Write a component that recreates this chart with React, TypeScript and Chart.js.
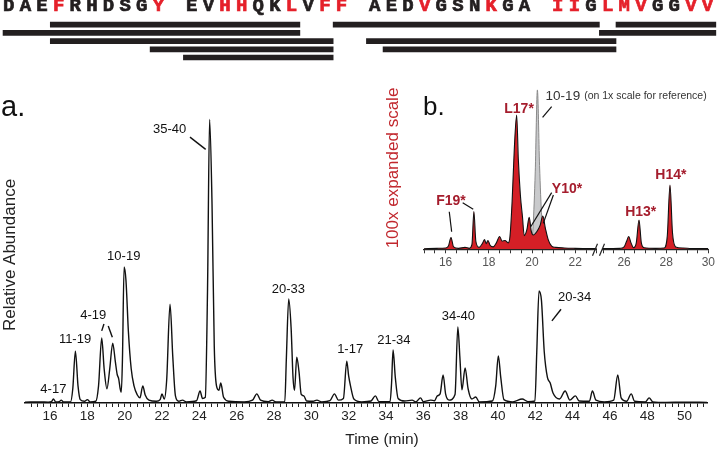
import React, { useEffect, useRef } from 'react';
import { Chart, registerables } from 'chart.js';

Chart.register(...registerables);
Chart.defaults.font.family = "'Liberation Sans', Arial, sans-serif";

// ---------- peptide map ----------
const SEQUENCE = 'DAEFRHDSGY EVHHQKLVFF AEDVGSNKGA IIGLMVGGVV';
const RED_RESIDUES = [4, 10, 13, 14, 17, 19, 20, 24, 28, 31, 32, 34, 35, 36, 39, 40];
const PEPTIDE_ROW_1: [number, number][] = [[4, 17], [20, 33], [35, 40]];
const PEPTIDE_ROW_2: [number, number][] = [[1, 17], [34, 40]];
const PEPTIDE_ROW_3: [number, number][] = [[4, 19], [21, 34]];
const PEPTIDE_ROW_4: [number, number][] = [[10, 19], [22, 34]];
const PEPTIDE_ROW_5: [number, number][] = [[11, 19]];
const PEPTIDE_ROWS = [PEPTIDE_ROW_1, PEPTIDE_ROW_2, PEPTIDE_ROW_3, PEPTIDE_ROW_4, PEPTIDE_ROW_5];

// ---------- main chromatogram (a) ----------
const MAIN_TIME = [14.66, 15.5, 15.9, 16.08, 16.18, 16.3, 16.5, 16.6, 16.72, 17.1, 17.22, 17.36, 17.5, 17.62, 17.85, 18.0, 18.15, 18.45, 18.6, 18.77, 18.9, 19.05, 19.2, 19.36, 19.5, 19.6, 19.68, 19.76, 19.82, 19.88, 19.97, 20.07, 20.2, 20.35, 20.5, 20.68, 20.82, 20.97, 21.1, 21.3, 21.7, 21.9, 22.0, 22.12, 22.25, 22.43, 22.58, 22.72, 22.9, 23.1, 23.3, 23.85, 24.04, 24.17, 24.32, 24.44, 24.55, 24.68, 24.8, 24.92, 25.05, 25.15, 25.3, 25.6, 26.4, 26.85, 27.08, 27.28, 27.7, 27.9, 28.1, 28.58, 28.66, 28.79, 28.92, 29.02, 29.1, 29.22, 29.34, 29.46, 29.6, 29.75, 30.1, 30.3, 30.55, 31.0, 31.24, 31.45, 31.72, 31.9, 32.0, 32.1, 32.28, 32.7, 33.2, 33.43, 33.62, 34.22, 34.3, 34.38, 34.5, 34.65, 35.0, 35.4, 35.6, 35.85, 36.0, 36.4, 36.6, 36.75, 36.9, 37.06, 37.2, 37.38, 37.7, 37.85, 37.96, 38.07, 38.24, 38.4, 38.6, 38.81, 39.0, 39.7, 39.88, 40.02, 40.15, 40.32, 40.8, 41.3, 41.6, 41.98, 42.08, 42.2, 42.33, 42.48, 42.65, 42.8, 42.95, 43.3, 43.6, 43.85, 44.15, 44.35, 44.9, 45.06, 45.25, 45.7, 46.2, 46.42, 46.6, 46.9, 47.14, 47.32, 47.9, 48.1, 48.3, 49.0, 50.0, 51.2];
const MAIN_SIGNAL = [0.3, 0.4, 0.3, 0.5, 1.4, 0.4, 0.5, 1.0, 0.4, 0.4, 5, 18.2, 6, 1.2, 0.6, 1.2, 0.4, 0.6, 6, 22.8, 12, 5, 12, 21, 14.5, 10, 8.5, 5, 3.8, 15, 47.7, 43, 25, 12, 6, 2.8, 1.8, 6, 2.8, 1, 0.6, 1.2, 3.2, 1.4, 8, 34.7, 16, 2.5, 0.6, 1, 0.4, 0.8, 4.2, 1.6, 2, 40, 99.5, 70, 20, 6, 4.5, 7, 2, 0.6, 0.4, 1, 3.2, 1, 0.5, 1, 0.4, 0.5, 15, 36.5, 26, 9, 4.5, 16.1, 11, 3, 2.5, 0.7, 0.6, 1, 0.4, 0.8, 3.2, 1, 1.6, 14.7, 9.5, 6, 1.4, 0.4, 0.7, 2.5, 0.5, 0.5, 7, 18.6, 9, 1.6, 0.7, 1, 0.4, 1.8, 0.5, 1, 0.8, 2.5, 3.2, 9.8, 3, 1, 3, 26.7, 16, 4.6, 12.3, 5, 1.4, 2.1, 0.4, 0.7, 6, 16.5, 9, 1.2, 0.4, 1.4, 0.5, 0.7, 18, 39.3, 36, 18, 9, 7, 3.5, 1.4, 4.2, 1, 2.5, 0.7, 0.6, 4.2, 1, 0.4, 1, 9.8, 1.8, 0.6, 3.2, 0.6, 0.4, 1.8, 0.4, 0.2, 0.3, 0.2];

const MAIN_PEAK_LABELS = [
  { text: '4-17', t: 16.18, v: 4.7 },
  { text: '11-19', t: 17.34, v: 22.2 },
  { text: '4-19', t: 18.32, v: 30.9 },
  { text: '10-19', t: 19.95, v: 51.5 },
  { text: '35-40', t: 22.41, v: 96.0 },
  { text: '20-33', t: 28.77, v: 39.9 },
  { text: '1-17', t: 32.08, v: 18.9 },
  { text: '21-34', t: 34.42, v: 22.1 },
  { text: '34-40', t: 37.88, v: 30.5 },
  { text: '20-34', t: 44.11, v: 37.2 },
];
const MAIN_LEADERS = [
  [23.5, 93.3, 24.34, 89.0],
  [43.38, 32.9, 42.89, 28.8],
  [18.89, 27.7, 18.77, 25.3],
  [19.12, 27.0, 19.34, 23.05],
];

// ---------- inset (b), 100x expanded ----------
const INSET_LEFT_TIME = [15.0, 15.6, 16.0, 16.13, 16.25, 16.37, 16.6, 16.9, 17.1, 17.22, 17.31, 17.4, 17.55, 17.7, 17.8, 17.88, 17.96, 18.06, 18.2, 18.35, 18.5, 18.62, 18.75, 18.9, 18.98, 19.08, 19.18, 19.29, 19.37, 19.46, 19.56, 19.64, 19.76, 19.87, 19.97, 20.06, 20.22, 20.38, 20.5, 20.62, 20.75, 20.91, 21.1, 21.5, 22.0, 22.5, 23.0];
const INSET_LEFT_SIGNAL = [0.3, 0.6, 0.8, 2, 7.3, 1.5, 0.6, 1.2, 0.6, 3, 23.4, 5, 1.2, 3.5, 6, 3.5, 5.5, 2.5, 1.5, 4, 7.9, 5, 5.5, 4, 8, 30, 62, 83.3, 55, 34, 20, 8.5, 12, 19.8, 11, 8.9, 10.9, 15, 20.6, 13, 6, 2, 1.2, 0.8, 0.6, 0.5, 0.4];
const REF_1X_TIME = [19.95, 20.05, 20.15, 20.25, 20.35, 20.45, 20.6];
const REF_1X_SIGNAL = [0.5, 14, 48, 98.8, 52, 20, 2];
const INSET_RIGHT_TIME = [25.0, 25.8, 26.0, 26.12, 26.22, 26.33, 26.45, 26.58, 26.71, 26.82, 26.95, 27.5, 27.9, 28.05, 28.18, 28.3, 28.45, 28.8, 29.2, 30.0];
const INSET_RIGHT_SIGNAL = [0.4, 0.6, 1.5, 5, 7.9, 4, 1, 4, 18.2, 4, 1, 0.6, 0.8, 8, 39.9, 10, 1.5, 0.8, 0.5, 0.4];

const INSET_LEFT_LABELS = [
  { text: 'F19*', t: 16.25, v: 29.9 },
  { text: 'L17*', t: 19.4, v: 87 },
  { text: 'Y10*', t: 21.62, v: 37.4 },
];
const INSET_LEFT_LEADERS = [
  [16.17, 23.3, 16.28, 10.9],
  [16.79, 28.9, 17.28, 24.8],
  [20.91, 88.4, 20.49, 81.8],
  [20.91, 35.1, 19.94, 14.0],
  [20.99, 33.7, 20.52, 16.1],
];
const REF_LABEL = { text: '10-19', note: '(on 1x scale for reference)', t: 20.63, v: 95 };
const INSET_RIGHT_LABELS = [
  { text: 'H13*', t: 26.79, v: 23.3 },
  { text: 'H14*', t: 28.22, v: 46.2 },
];

const W = 717;
const H = 449;
const SEQ_RED = '#e5202a';
const INSET_RED = '#d41f26';
const LABEL_RED = '#a51d2d';

function residueSlots(): number[] {
  const s: number[] = [];
  for (let i = 0; i < SEQUENCE.length; i++) if (SEQUENCE[i] !== ' ') s.push(i);
  return s;
}

function evenLabel(v: number) {
  const r = Math.round(v);
  return Math.abs(v - r) < 1e-6 && r % 2 === 0 ? String(r) : '';
}

function makeTicks(start: number, end: number, step: number) {
  const t: { value: number }[] = [];
  for (let k = 0; start + k * step <= end + 1e-9; k++) t.push({ value: start + k * step });
  return t;
}

function text(ctx: CanvasRenderingContext2D, s: string, x: number, y: number, font: string, color: string, align: CanvasTextAlign = 'center', baseline: CanvasTextBaseline = 'middle', rot = 0) {
  ctx.save();
  ctx.font = font;
  ctx.fillStyle = color;
  ctx.textAlign = align;
  ctx.textBaseline = baseline;
  ctx.translate(x, y);
  if (rot) ctx.rotate(rot);
  ctx.fillText(s, 0, 0);
  ctx.restore();
}

function lines(chart: any, segs: number[][], color: string, width: number) {
  const { ctx, scales } = chart;
  ctx.save();
  ctx.strokeStyle = color;
  ctx.lineWidth = width;
  segs.forEach(([t1, v1, t2, v2]) => {
    ctx.beginPath();
    ctx.moveTo(scales.x.getPixelForValue(t1), scales.y.getPixelForValue(v1));
    ctx.lineTo(scales.x.getPixelForValue(t2), scales.y.getPixelForValue(v2));
    ctx.stroke();
  });
  ctx.restore();
}

const FONT = "'Liberation Sans', Arial, sans-serif";

function insetAxis(min: number, max: number) {
  return {
    type: 'linear',
    min,
    max,
    afterBuildTicks: (s: any) => { s.ticks = makeTicks(min, max, 0.5); },
    afterFit: (s: any) => { s.height = 20; },
    grid: { drawOnChartArea: false, drawTicks: true, tickLength: 4, color: '#333', lineWidth: 1 },
    border: { display: true, color: '#222', width: 1.2 },
    ticks: { autoSkip: false, maxRotation: 0, padding: 2, color: '#555', font: { size: 12 }, callback: (v: number) => evenLabel(v) },
  };
}

export default function App() {
  const seqRef = useRef<HTMLCanvasElement>(null);
  const mainRef = useRef<HTMLCanvasElement>(null);
  const leftRef = useRef<HTMLCanvasElement>(null);
  const rightRef = useRef<HTMLCanvasElement>(null);

  useEffect(() => {
    const slots = residueSlots();
    const slotOf = (res: number) => slots[res - 1];
    const letterColor = (c: any) => (RED_RESIDUES.includes(slots.indexOf(c.tick.value) + 1) ? SEQ_RED : '#231f20');
    const barSets = [0, 1, 2].map((col) => ({
      data: PEPTIDE_ROWS.map((row) => (row[col] ? [slotOf(row[col][0]) - 0.5, slotOf(row[col][1]) + 0.5] : null)),
      backgroundColor: '#231f20',
      borderWidth: 0,
      barThickness: 5,
      grouped: false,
    }));

    const seqChart = new Chart(seqRef.current as HTMLCanvasElement, {
      type: 'bar',
      data: { labels: PEPTIDE_ROWS.map((_, i) => 'row' + (i + 1)), datasets: barSets as any },
      options: {
        indexAxis: 'y',
        responsive: false,
        animation: false,
        layout: { padding: { top: 0, left: 0, right: 0, bottom: H - 61.6 } },
        plugins: { legend: { display: false }, tooltip: { enabled: false } },
        scales: {
          y: { display: false },
          x: {
            type: 'linear',
            position: 'top',
            min: -0.36,
            max: 42.57,
            afterBuildTicks: (s: any) => { s.ticks = slots.map((v) => ({ value: v })); },
            afterFit: (s: any) => { s.height = 20.6; },
            grid: { display: false, drawTicks: false },
            border: { display: false },
            ticks: {
              autoSkip: false,
              maxRotation: 0,
              padding: 3,
              font: { family: "'Liberation Mono', 'Courier New', monospace", size: 19, weight: 'bold' },
              color: letterColor,
              textStrokeColor: letterColor,
              textStrokeWidth: 0.7,
              callback: (v: number) => SEQUENCE[v],
            },
          },
        },
      } as any,
    });

    const mainPlugin = {
      id: 'mainText',
      afterDraw(chart: any) {
        const { ctx, scales } = chart;
        MAIN_PEAK_LABELS.forEach((l) => text(ctx, l.text, scales.x.getPixelForValue(l.t), scales.y.getPixelForValue(l.v), `13px ${FONT}`, '#111'));
        lines(chart, MAIN_LEADERS, '#111', 1.4);
        text(ctx, 'a.', 1, 116, `29px ${FONT}`, '#111', 'left', 'alphabetic');
        text(ctx, 'Relative Abundance', 10, 255, `17px ${FONT}`, '#222', 'center', 'middle', -Math.PI / 2);
        text(ctx, 'Time (min)', 382, 440, `15.5px ${FONT}`, '#222');
      },
    };

    const mainChart = new Chart(mainRef.current as HTMLCanvasElement, {
      type: 'line',
      data: {
        datasets: [{
          data: MAIN_TIME.map((t, i) => ({ x: t, y: MAIN_SIGNAL[i] })),
          borderColor: '#111',
          borderWidth: 1.4,
          pointRadius: 0,
          cubicInterpolationMode: 'monotone',
          fill: false,
        }],
      },
      options: {
        responsive: false,
        animation: false,
        layout: { padding: { top: 118, left: 25, right: 10, bottom: 0 } },
        plugins: { legend: { display: false }, tooltip: { enabled: false } },
        scales: {
          x: {
            type: 'linear',
            min: 14.66,
            max: 51.2,
            afterBuildTicks: (s: any) => { s.ticks = makeTicks(15, 51, 1 / 3); },
            afterFit: (s: any) => { s.height = 46; },
            grid: { drawOnChartArea: false, drawTicks: true, tickLength: 4, color: '#222', lineWidth: 1 },
            border: { display: true, color: '#111', width: 1.5 },
            ticks: { autoSkip: false, maxRotation: 0, padding: 1, color: '#222', font: { size: 13.5 }, callback: (v: number) => evenLabel(v) },
          },
          y: { display: false, min: 0, max: 100 },
        },
      } as any,
      plugins: [mainPlugin],
    });

    const leftPlugin = {
      id: 'leftText',
      afterDraw(chart: any) {
        const { ctx, scales } = chart;
        INSET_LEFT_LABELS.forEach((l) => text(ctx, l.text, scales.x.getPixelForValue(l.t), scales.y.getPixelForValue(l.v), `bold 14px ${FONT}`, LABEL_RED));
        const rx = scales.x.getPixelForValue(REF_LABEL.t);
        const ry = scales.y.getPixelForValue(REF_LABEL.v);
        text(ctx, REF_LABEL.text, rx, ry, `13.5px ${FONT}`, '#333', 'left');
        ctx.save();
        ctx.font = `13.5px ${FONT}`;
        const w = ctx.measureText(REF_LABEL.text).width;
        ctx.restore();
        text(ctx, REF_LABEL.note, rx + w + 4, ry, `10.5px ${FONT}`, '#333', 'left');
        lines(chart, INSET_LEFT_LEADERS, '#111', 1.2);
        text(ctx, 'b.', 423, 115, `26px ${FONT}`, '#111', 'left', 'alphabetic');
        text(ctx, '100x expanded scale', 393, 168, `17px ${FONT}`, '#c1272d', 'center', 'middle', -Math.PI / 2);
      },
    };

    const leftChart = new Chart(leftRef.current as HTMLCanvasElement, {
      type: 'line',
      data: {
        datasets: [
          {
            data: INSET_LEFT_TIME.map((t, i) => ({ x: t, y: INSET_LEFT_SIGNAL[i] })),
            borderColor: '#111', borderWidth: 1.1, backgroundColor: INSET_RED,
            fill: 'origin', pointRadius: 0, cubicInterpolationMode: 'monotone', order: 1,
          },
          {
            data: REF_1X_TIME.map((t, i) => ({ x: t, y: REF_1X_SIGNAL[i] })),
            borderColor: '#8a8a8a', borderWidth: 1, backgroundColor: '#c9cacc',
            fill: 'origin', pointRadius: 0, cubicInterpolationMode: 'monotone', order: 2,
          },
        ],
      },
      options: {
        responsive: false,
        animation: false,
        layout: { padding: { top: 88, left: 424, right: W - 596.8, bottom: H - 249.3 - 20 } },
        plugins: { legend: { display: false }, tooltip: { enabled: false } },
        scales: { x: insetAxis(15, 23), y: { display: false, min: 0, max: 100 } },
      } as any,
      plugins: [leftPlugin],
    });

    const rightPlugin = {
      id: 'rightText',
      afterDraw(chart: any) {
        const { ctx, scales, chartArea } = chart;
        INSET_RIGHT_LABELS.forEach((l) => text(ctx, l.text, scales.x.getPixelForValue(l.t), scales.y.getPixelForValue(l.v), `bold 14px ${FONT}`, LABEL_RED));
        ctx.save();
        ctx.strokeStyle = '#222';
        ctx.lineWidth = 1.2;
        const b = chartArea.bottom;
        [[-10.5, -5.5], [-3.5, 1.5]].forEach(([a, c]) => {
          ctx.beginPath();
          ctx.moveTo(chartArea.left + a, b + 6.5);
          ctx.lineTo(chartArea.left + c, b - 5.5);
          ctx.stroke();
        });
        ctx.restore();
      },
    };

    const rightChart = new Chart(rightRef.current as HTMLCanvasElement, {
      type: 'line',
      data: {
        datasets: [{
          data: INSET_RIGHT_TIME.map((t, i) => ({ x: t, y: INSET_RIGHT_SIGNAL[i] })),
          borderColor: '#111', borderWidth: 1.1, backgroundColor: INSET_RED,
          fill: 'origin', pointRadius: 0, cubicInterpolationMode: 'monotone',
        }],
      },
      options: {
        responsive: false,
        animation: false,
        layout: { padding: { top: 88, left: 603, right: W - 711, bottom: H - 249.3 - 20 } },
        plugins: { legend: { display: false }, tooltip: { enabled: false } },
        scales: { x: insetAxis(25, 30), y: { display: false, min: 0, max: 100 } },
      } as any,
      plugins: [rightPlugin],
    });

    return () => {
      seqChart.destroy();
      mainChart.destroy();
      leftChart.destroy();
      rightChart.destroy();
    };
  }, []);

  const cs: React.CSSProperties = { position: 'absolute', left: 0, top: 0 };
  return (
    <div style={{ position: 'absolute', left: 0, top: 0, width: W, height: H, background: '#fff', overflow: 'hidden' }}>
      <canvas ref={mainRef} width={W} height={H} style={cs} />
      <canvas ref={seqRef} width={W} height={H} style={cs} />
      <canvas ref={leftRef} width={W} height={H} style={cs} />
      <canvas ref={rightRef} width={W} height={H} style={cs} />
    </div>
  );
}
